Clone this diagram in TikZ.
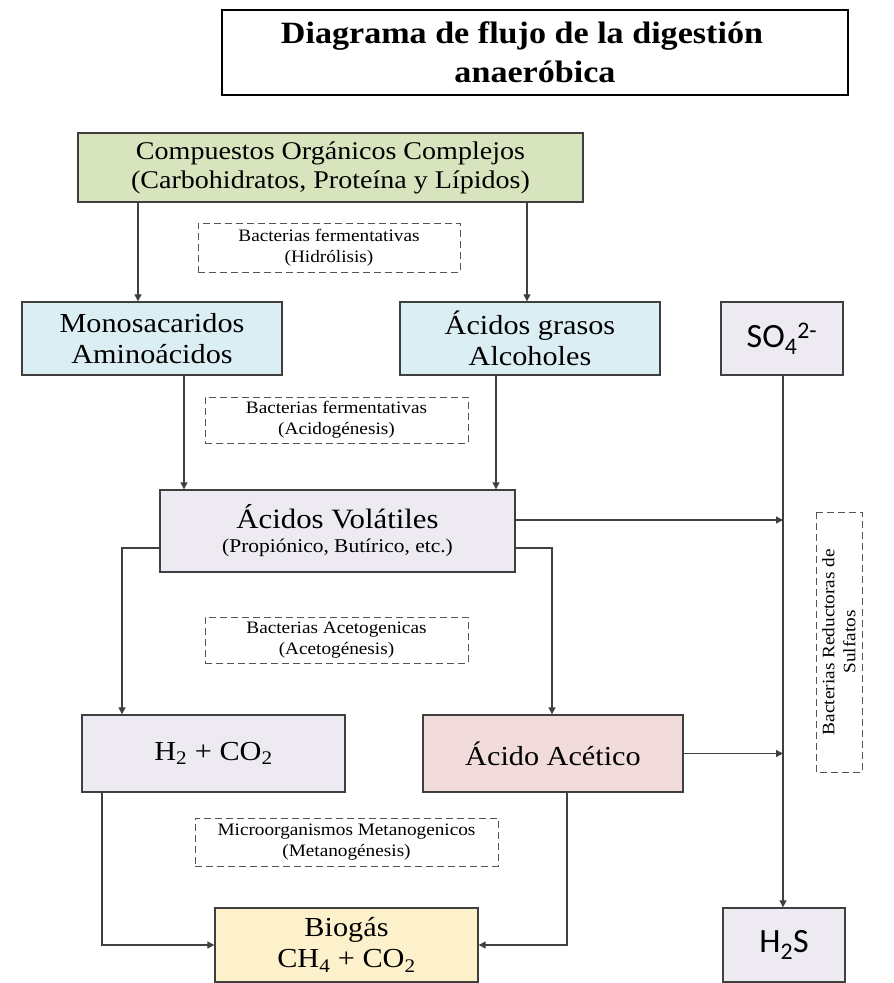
\documentclass[tikz,border=0pt]{standalone}
\usepackage{fontspec}
\setmainfont{Liberation Serif}[FakeStretch=1.1]
\newfontfamily\carlito{Carlito}
\usetikzlibrary{arrows.meta}

\definecolor{boxline}{HTML}{3F3F3F}
\definecolor{linecol}{HTML}{404040}
\definecolor{dashline}{HTML}{555555}
\definecolor{organic}{HTML}{D7E4BD}
\definecolor{skyfill}{HTML}{DBEEF4}
\definecolor{lavfill}{HTML}{EDEAF2}
\definecolor{rosefill}{HTML}{F2DCDB}
\definecolor{goldfill}{HTML}{FDF1CC}

\begin{document}
\begin{tikzpicture}[x=1pt,y=-1pt,
  box/.style={draw=boxline, line width=1.4pt, rectangle, inner sep=0pt, align=center},
  bacteria/.style={draw=dashline, dashed, dash pattern=on 7pt off 4pt, line width=1pt,
    rectangle, inner sep=0pt, align=center, font=\fontsize{17.5}{21}\selectfont},
  bigtext/.style={font=\fontsize{27.5}{31}\selectfont},
  sanstext/.style={font=\carlito\fontsize{34}{36}\selectfont},
  link/.style={draw=linecol, line width=1.3pt},
  arr/.style={link, -{Triangle[length=7pt,width=7pt]}}
]
\useasboundingbox (0,0) rectangle (894,983);

% title
\node[box, draw=black, line width=2pt, minimum width=626pt, minimum height=85pt,
  font=\bfseries\fontsize{31}{39}\selectfont] (title) at (535,52.5)
  {Diagrama de flujo de la digestión\hspace*{26pt}\\anaeróbica};

% process boxes
\node[box, fill=organic, minimum width=505pt, minimum height=69pt,
  font=\fontsize{25.5}{29}\selectfont] (green) at (330.5,167.5)
  {Compuestos Orgánicos Complejos\\(Carbohidratos, Proteína y Lípidos)};

\node[box, fill=skyfill, minimum width=260pt, minimum height=73pt, bigtext] (mono) at (152,338.5)
  {Monosacaridos\\Aminoácidos};
\node[box, fill=skyfill, minimum width=260pt, minimum height=73pt, bigtext] (grasos) at (530,338.5)
  {Ácidos grasos\\Alcoholes};
\node[box, fill=lavfill, minimum width=122pt, minimum height=73pt, sanstext] (so4) at (782,338.5)
  {SO\textsubscript{4}\textsuperscript{2-}};

\node[box, fill=lavfill, minimum width=355pt, minimum height=82pt] (volat) at (337.5,531)
  {{\fontsize{28}{30}\selectfont Ácidos Volátiles}\\[9pt]{\fontsize{19.5}{21}\selectfont (Propiónico, Butírico, etc.)}};

\node[box, fill=lavfill, minimum width=263pt, minimum height=77pt, bigtext] (h2co2) at (213.5,753.5)
  {H\textsubscript{2} + CO\textsubscript{2}};
\node[box, fill=rosefill, minimum width=260pt, minimum height=77pt, bigtext] (acet) at (553,753.5)
  {Ácido Acético};

\node[box, fill=goldfill, minimum width=263pt, minimum height=74pt, bigtext] (biogas) at (346.5,945)
  {Biogás\\CH\textsubscript{4} + CO\textsubscript{2}};
\node[box, fill=lavfill, minimum width=122pt, minimum height=74pt, sanstext] (h2s) at (784,945)
  {H\textsubscript{2}S};

% microorganism labels
\node[bacteria, minimum width=262pt, minimum height=49pt] (hidro) at (329,247.5)
  {Bacterias fermentativas\\(Hidrólisis)};
\node[bacteria, minimum width=263pt, minimum height=46pt] (acido) at (336.5,420)
  {Bacterias fermentativas\\(Acidogénesis)};
\node[bacteria, minimum width=263pt, minimum height=46pt] (aceto) at (336.5,640)
  {Bacterias Acetogenicas\\(Acetogénesis)};
\node[bacteria, minimum width=303pt, minimum height=48pt] (metano) at (346.5,842)
  {Microorganismos Metanogenicos\\(Metanogénesis)};
\node[bacteria, rotate=90, minimum width=260pt, minimum height=46pt] (sulf) at (839,642)
  {Bacterias Reductoras de\\Sulfatos};

% routing columns and rows
\coordinate (xa) at (138,0);
\coordinate (xb) at (527,0);
\coordinate (xc) at (184,0);
\coordinate (xd) at (496,0);
\coordinate (xl) at (122,0);
\coordinate (xr) at (552,0);
\coordinate (xs) at (783,0);
\coordinate (xh) at (102,0);
\coordinate (xk) at (567,0);
\coordinate (ylow) at (0,548);
\coordinate (jv) at (783,520);

% connectors
\draw[arr] (green.south -| xa) -- (mono.north -| xa);
\draw[arr] (green.south -| xb) -- (grasos.north -| xb);
\draw[arr] (mono.south -| xc) -- (volat.north -| xc);
\draw[arr] (grasos.south -| xd) -- (volat.north -| xd);
\draw[arr] (volat.west |- ylow) -| (h2co2.north -| xl);
\draw[arr] (volat.east |- ylow) -| (acet.north -| xr);
\draw[arr] (volat.east |- jv) -- (jv);
\draw[arr] (so4.south -| xs) -- (h2s.north -| xs);
\draw[arr] (acet.east) -- (acet.east -| xs);
\draw[arr] (h2co2.south -| xh) |- (biogas.west);
\draw[arr] (acet.south -| xk) |- (biogas.east);
\end{tikzpicture}
\end{document}
